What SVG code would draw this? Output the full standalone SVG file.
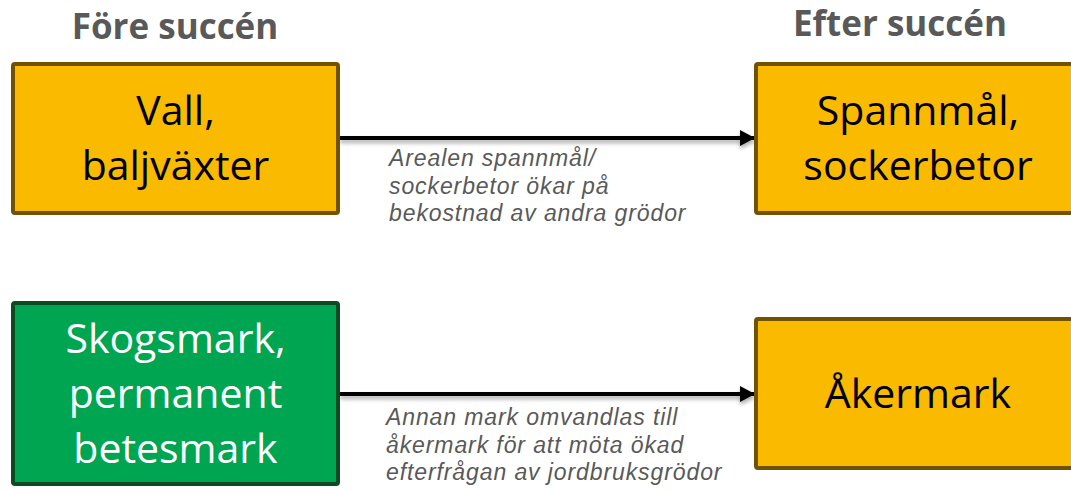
<svg xmlns="http://www.w3.org/2000/svg" width="1071" height="493" viewBox="0 0 1071 493">
  <style>
    .head { font-family: "Open Sans", "Liberation Sans", sans-serif; font-weight: bold; font-size: 35px; fill: #595959; text-anchor: middle; }
    .crop { fill: #F9BA00; stroke: #725200; stroke-width: 4; }
    .land { fill: #00A552; stroke: #0B4A22; stroke-width: 4; }
    .lbl { font-family: "Open Sans", "Liberation Sans", sans-serif; font-size: 41px; text-anchor: middle; }
    .dark { fill: #000000; }
    .light { fill: #FFFFFF; }
    .note { font-family: "Liberation Sans", Arial, sans-serif; font-style: italic; font-size: 23px; letter-spacing: 0.9px; fill: #595959; }
    .edge { stroke: #000000; stroke-width: 4; fill: none; marker-end: url(#arrow); }
  </style>
  <defs>
    <marker id="arrow" markerUnits="userSpaceOnUse" markerWidth="16" markerHeight="18" refX="15" refY="9" orient="auto">
      <path d="M0,1 L15,9 L0,17 Z" fill="#000000"/>
    </marker>
    <filter id="shade" filterUnits="userSpaceOnUse" x="300" y="100" width="500" height="330">
      <feGaussianBlur in="SourceAlpha" stdDeviation="2"/>
      <feOffset dx="0" dy="3" result="b"/>
      <feComponentTransfer><feFuncA type="linear" slope="0.35"/></feComponentTransfer>
      <feMerge><feMergeNode/><feMergeNode in="SourceGraphic"/></feMerge>
    </filter>
  </defs>

  <rect width="1071" height="493" fill="#FFFFFF"/>

  <text class="head" x="175" y="39">Före succén</text>
  <text class="head" x="900" y="36">Efter succén</text>

  <g id="connectors">
    <g filter="url(#shade)">
      <line class="edge" x1="340" y1="138" x2="755" y2="138"/>
      <line class="edge" x1="340" y1="394" x2="755" y2="394"/>
    </g>
    <text class="note" x="389" y="166">Arealen spannmål/</text>
    <text class="note" x="389" y="193.5">sockerbetor ökar på</text>
    <text class="note" x="389" y="221">bekostnad av andra grödor</text>
    <text class="note" x="386" y="425">Annan mark omvandlas till</text>
    <text class="note" x="386" y="452.5">åkermark för att möta ökad</text>
    <text class="note" x="386" y="480">efterfrågan av jordbruksgrödor</text>
  </g>

  <g id="vall">
    <rect class="crop" x="13" y="64" width="325" height="149" rx="2"/>
    <text class="lbl dark" x="175.5" y="125">Vall,</text>
    <text class="lbl dark" x="175.5" y="180">baljväxter</text>
  </g>

  <g id="spannmal">
    <rect class="crop" x="756" y="64" width="325" height="149" rx="2"/>
    <text class="lbl dark" x="918" y="125">Spannmål,</text>
    <text class="lbl dark" x="918" y="180">sockerbetor</text>
  </g>

  <g id="skogsmark">
    <rect class="land" x="13" y="303" width="325" height="181" rx="2"/>
    <text class="lbl light" x="175.5" y="353">Skogsmark,</text>
    <text class="lbl light" x="175.5" y="408">permanent</text>
    <text class="lbl light" x="175.5" y="463">betesmark</text>
  </g>

  <g id="akermark">
    <rect class="crop" x="756" y="319" width="325" height="149" rx="2"/>
    <text class="lbl dark" x="918" y="408">Åkermark</text>
  </g>
</svg>
